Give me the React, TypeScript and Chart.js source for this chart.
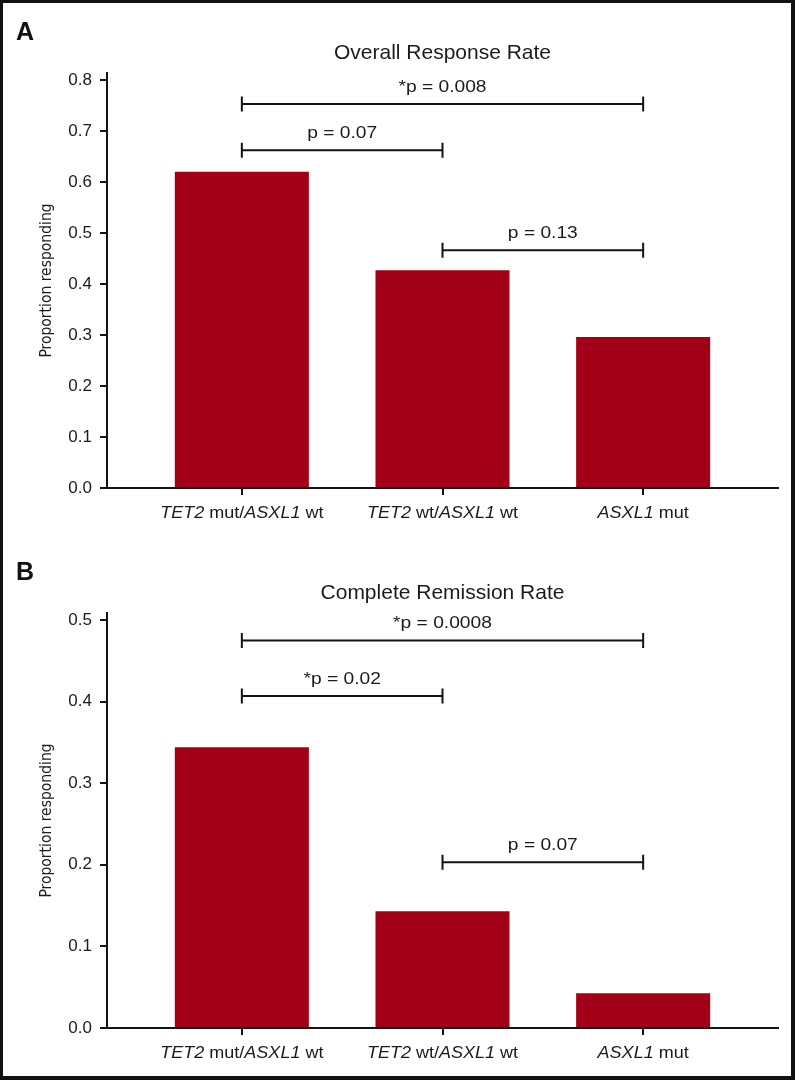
import React, { useEffect, useRef } from 'react';
import { Chart, registerables } from 'chart.js';

Chart.register(...registerables);

// ---- data ----
const categories = ['TET2 mut/ASXL1 wt', 'TET2 wt/ASXL1 wt', 'ASXL1 mut'];
// label parts: [text, italic]
const categoryParts: [string, boolean][][] = [
  [['TET2', true], [' mut/', false], ['ASXL1', true], [' wt', false]],
  [['TET2', true], [' wt/', false], ['ASXL1', true], [' wt', false]],
  [['ASXL1', true], [' mut', false]],
];

const orrValues = [0.62, 0.427, 0.296];
const crValues = [0.344, 0.143, 0.0425];

const orrTicks = [0, 0.1, 0.2, 0.3, 0.4, 0.5, 0.6, 0.7, 0.8];
const crTicks = [0, 0.1, 0.2, 0.3, 0.4, 0.5];

const orrBracketFrom = [0, 0, 1];
const orrBracketTo = [2, 1, 2];
const orrBracketY = [0.753, 0.662, 0.466];
const orrBracketLabels = ['*p = 0.008', 'p = 0.07', 'p = 0.13'];

const crBracketFrom = [0, 0, 1];
const crBracketTo = [2, 1, 2];
const crBracketY = [0.475, 0.407, 0.203];
const crBracketLabels = ['*p = 0.0008', '*p = 0.02', 'p = 0.07'];

// ---- styles ----
const FONT = '"Liberation Sans", Arial, Helvetica, sans-serif';
const NARROW = '"Liberation Sans Narrow", "DejaVu Sans Condensed", sans-serif';
const TXT = '#1c1a1b';
const AX = '#141414';
const BAR = '#A10017';

type PanelProps = {
  letter: string;
  title: string;
  values: number[];
  ticks: number[];
  yMax: number;
  bFrom: number[];
  bTo: number[];
  bY: number[];
  bLabels: string[];
  top: number;
};

function Panel(p: PanelProps) {
  const ref = useRef<HTMLCanvasElement>(null);
  useEffect(() => {
    if (!ref.current) return;
    const plugin = {
      id: 'panelDecor',
      afterDraw(chart: any) {
        const ctx = chart.ctx as CanvasRenderingContext2D;
        const xs = chart.scales.x;
        const ys = chart.scales.y;
        ctx.save();
        // panel letter
        ctx.fillStyle = '#111';
        ctx.textAlign = 'left';
        ctx.textBaseline = 'alphabetic';
        ctx.font = `bold 25px ${FONT}`;
        ctx.fillText(p.letter, 16, 40);

        // category labels with mixed italic
        ctx.fillStyle = TXT;
        const baseY = chart.chartArea.bottom + 30;
        const sx = 1.06;
        categoryParts.forEach((parts, i) => {
          const cx = xs.getPixelForValue(i);
          const fonts = parts.map(([, it]) => `${it ? 'italic ' : ''}17px ${FONT}`);
          const widths = parts.map(([t], k) => {
            ctx.font = fonts[k];
            return ctx.measureText(t).width;
          });
          const total = widths.reduce((a, b) => a + b, 0);
          ctx.save();
          ctx.translate(cx, baseY);
          ctx.scale(sx, 1);
          let x = -total / 2;
          parts.forEach(([t], k) => {
            ctx.font = fonts[k];
            ctx.fillText(t, x, 0);
            x += widths[k];
          });
          ctx.restore();
        });

        // significance brackets
        ctx.strokeStyle = AX;
        ctx.lineWidth = 2;
        p.bY.forEach((v, i) => {
          const y = ys.getPixelForValue(v);
          const x1 = xs.getPixelForValue(p.bFrom[i]);
          const x2 = xs.getPixelForValue(p.bTo[i]);
          ctx.beginPath();
          ctx.moveTo(x1, y);
          ctx.lineTo(x2, y);
          ctx.moveTo(x1, y - 7.5);
          ctx.lineTo(x1, y + 7.5);
          ctx.moveTo(x2, y - 7.5);
          ctx.lineTo(x2, y + 7.5);
          ctx.stroke();
          ctx.save();
          ctx.translate((x1 + x2) / 2, y - 12);
          ctx.scale(1.2, 1);
          ctx.font = `16px ${FONT}`;
          ctx.textAlign = 'center';
          ctx.fillText(p.bLabels[i], 0, 0);
          ctx.restore();
        });
        ctx.restore();
      },
    };

    const gridOpts = {
      display: true,
      offset: false,
      drawOnChartArea: false,
      drawTicks: true,
      tickLength: 7,
      color: AX,
      lineWidth: 2,
    };

    const chart = new Chart(ref.current, {
      type: 'bar',
      data: {
        datasets: [
          {
            data: p.values.map((v, i) => ({ x: i, y: v })),
            backgroundColor: BAR,
            borderWidth: 0,
            barPercentage: 0.668,
            categoryPercentage: 1,
          },
        ],
      },
      options: {
        responsive: false,
        animation: false,
        devicePixelRatio: 1,
        layout: { padding: { left: 0, right: 17, top: 0, bottom: 0 } },
        plugins: {
          legend: { display: false },
          tooltip: { enabled: false },
          title: {
            display: true,
            fullSize: false,
            text: p.title,
            color: TXT,
            font: { family: FONT, size: 21, weight: 'normal' },
            padding: { top: 40.4, bottom: 7.4 },
          },
        },
        scales: {
          x: {
            type: 'linear',
            min: -0.672,
            max: 2.672,
            offset: false,
            afterBuildTicks: (s: any) => {
              s.ticks = categories.map((_, i) => ({ value: i }));
            },
            ticks: { display: false },
            grid: gridOpts,
            border: { display: true, color: AX, width: 2 },
            afterFit: (s: any) => {
              s.height = 52;
            },
          },
          y: {
            type: 'linear',
            min: 0,
            max: p.yMax,
            afterBuildTicks: (s: any) => {
              s.ticks = p.ticks.map((v) => ({ value: v }));
            },
            ticks: {
              callback: (v: any) => Number(v).toFixed(1),
              color: TXT,
              font: { family: FONT, size: 17 },
              padding: 8,
            },
            grid: gridOpts,
            border: { display: true, color: AX, width: 2 },
            title: {
              display: true,
              text: 'Proportion responding',
              color: TXT,
              font: { family: NARROW, size: 15.5 },
              padding: { top: 38, bottom: 0 },
            },
            afterFit: (s: any) => {
              s.width = 107;
            },
          },
        },
      } as any,
      plugins: [plugin],
    });
    return () => chart.destroy();
  }, []);
  return (
    <canvas
      ref={ref}
      width={795}
      height={540}
      style={{ position: 'absolute', left: 0, top: p.top, width: 795, height: 540 }}
    />
  );
}

export default function App() {
  return (
    <div
      style={{
        position: 'absolute',
        left: 0,
        top: 0,
        width: 795,
        height: 1080,
        background: '#fff',
        overflow: 'hidden',
      }}
    >
      <Panel
        letter="A"
        title="Overall Response Rate"
        values={orrValues}
        ticks={orrTicks}
        yMax={0.8137}
        bFrom={orrBracketFrom}
        bTo={orrBracketTo}
        bY={orrBracketY}
        bLabels={orrBracketLabels}
        top={0}
      />
      <Panel
        letter="B"
        title="Complete Remission Rate"
        values={crValues}
        ticks={crTicks}
        yMax={0.5086}
        bFrom={crBracketFrom}
        bTo={crBracketTo}
        bY={crBracketY}
        bLabels={crBracketLabels}
        top={540}
      />
      <div
        style={{
          position: 'absolute',
          inset: 0,
          border: '3px solid #111',
          borderRightWidth: 4,
          borderBottomWidth: 4,
          boxSizing: 'border-box',
          pointerEvents: 'none',
        }}
      />
    </div>
  );
}
